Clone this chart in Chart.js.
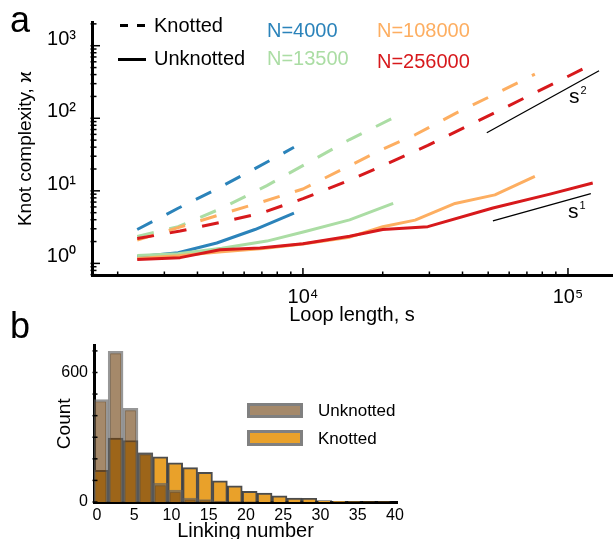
<!DOCTYPE html>
<html><head><meta charset="utf-8">
<script src="https://cdn.jsdelivr.net/npm/chart.js@4.4.1/dist/chart.umd.min.js"></script>
<style>
html,body{margin:0;padding:0;width:613px;height:539px;overflow:hidden;background:#fff;font-family:'Liberation Sans',Arial,sans-serif;}
.abs{position:absolute;white-space:nowrap;line-height:1;color:#000;}
#ca{position:absolute;left:0;top:0;}
#cb{position:absolute;left:0;top:330px;}
.bar{position:absolute;background:#000;height:3px;}
.box{position:absolute;box-sizing:border-box;border:3px solid #808080;}
</style></head><body>
<canvas id="ca" width="613" height="330"></canvas>
<canvas id="cb" width="613" height="215"></canvas>

<div class="abs" style="left:10px;top:1.5px;font-size:36px;">a</div>
<div class="abs" style="left:10px;top:307.5px;font-size:36px;">b</div>
<div class="bar" style="left:120px;top:23.5px;width:8px;"></div>
<div class="bar" style="left:137px;top:23.5px;width:8px;"></div>
<div class="bar" style="left:118px;top:57.5px;width:28px;"></div>
<div class="abs" style="left:154px;top:15px;font-size:20px;">Knotted</div>
<div class="abs" style="left:154px;top:48px;font-size:20px;">Unknotted</div>
<div class="abs" style="left:267px;top:20px;font-size:20px;color:#2b83ba;">N=4000</div>
<div class="abs" style="left:267px;top:48px;font-size:20px;color:#abdda4;">N=13500</div>
<div class="abs" style="left:377px;top:20px;font-size:20px;color:#fdae61;">N=108000</div>
<div class="abs" style="left:377px;top:51px;font-size:20px;color:#d7191c;">N=256000</div>
<div class="abs" style="left:569px;top:85px;font-size:21px;">s<span style="font-size:11px;position:relative;top:-9px;left:1px;">2</span></div>
<div class="abs" style="left:568px;top:200px;font-size:21px;">s<span style="font-size:11px;position:relative;top:-9px;left:1px;">1</span></div>
<div class="box" style="left:247px;top:403px;width:56px;height:15px;background:rgb(165,137,106);"></div>
<div class="box" style="left:247px;top:430px;width:56px;height:16px;background:rgb(233,161,42);"></div>
<div class="abs" style="left:318px;top:401.6px;font-size:17px;">Unknotted</div>
<div class="abs" style="left:318px;top:429.6px;font-size:17px;">Knotted</div>

<script>
// ---------- Panel a data: loop length s vs knot complexity ----------
const sBlue = [2370, 3380, 4730, 6590, 9250];
const unknotBlue = [1.24, 1.40, 1.91, 2.93, 4.94];
const knotBlue = [2.93, 5.75, 10.6, 20.2, 39.8];

const sGreen = [2370, 3380, 4940, 7310, 10200, 15000, 21900];
const unknotGreen = [1.28, 1.36, 1.62, 2.03, 2.75, 3.98, 6.7];
const knotGreen = [2.36, 3.21, 5.75, 11.8, 23.2, 50.9, 101];

const sOrange = [2370, 3380, 4940, 7070, 10000, 15000, 20000, 26500, 37500, 53000, 75000];
const unknotOrange = [1.17, 1.27, 1.45, 1.6, 1.85, 2.3, 3.2, 3.95, 6.7, 8.8, 15.8];
const knotOrange = [2.09, 3.11, 4.78, 7.1, 10.6, 22.2, 37.5, 59.2, 116, 215, 405];

const sRed = [2370, 3440, 4860, 6880, 10000, 15000, 20000, 29600, 52100, 85500, 124000];
const unknotRed = [1.13, 1.2, 1.54, 1.63, 1.87, 2.36, 2.93, 3.21, 5.8, 9.0, 12.8];
const knotRed = [2.2, 2.79, 3.66, 4.86, 7.8, 14.0, 22.2, 42.2, 116, 284, 560];

const sGuide2 = [49400, 131000];
const guide2 = [63.1, 452];
const sGuide1 = [52100, 122000];
const guide1 = [3.86, 9.12];

// ---------- Panel b data: linking number histogram ----------
const linkingBins = [0.5, 2.5, 4.5, 6.5, 8.5, 10.5, 12.5, 14.5, 16.5, 18.5, 20.5, 22.5, 24.5, 26.5, 28.5, 30.5, 32.5, 34.5, 36.5, 38.5];
const unknottedCounts = [475, 698, 434, 229, 86, 55, 18, 11, 4, 2, 1, 0, 0, 0, 0, 0, 0, 0, 0, 0];
const knottedCounts = [147, 296, 285, 227, 209, 182, 159, 137, 98, 75, 49, 41, 29, 18, 17, 6, 3, 2, 1, 1];
const countTickLabels = [0, 600];
const linkTickLabels = [0, 5, 10, 15, 20, 25, 30, 35, 40];

const FAM = "'Liberation Sans', Arial, sans-serif";
const SUP = {'-1':'⁻¹','0':'⁰','1':'¹','2':'²','3':'³','4':'⁴','5':'⁵'};
const pts = (xs, ys) => xs.map((x, i) => ({x: x, y: ys[i]}));
const isPow10 = v => { const l = Math.log10(v); return Math.abs(l - Math.round(l)) < 1e-9; };
function logTicks(min, max) {
  const out = [];
  for (let e = Math.floor(Math.log10(min)); e <= Math.ceil(Math.log10(max)); e++) {
    for (let m = 1; m <= 9; m++) {
      const v = parseFloat((m * Math.pow(10, e)).toPrecision(6));
      if (v >= min && v <= max) out.push({value: v});
    }
  }
  return out;
}

const inwardTicks = {
  id: 'inwardTicks',
  afterDraw(chart, args, opts) {
    const {ctx, chartArea} = chart;
    ctx.save();
    ctx.strokeStyle = '#000';
    ctx.lineWidth = 1.5;
    ['x', 'y'].forEach(id => {
      const cfg = opts[id];
      if (!cfg) return;
      const sc = chart.scales[id];
      sc.ticks.forEach(t => {
        const major = cfg.log ? isPow10(t.value) : false;
        const len = major ? cfg.major : cfg.minor;
        const p = sc.getPixelForValue(t.value);
        ctx.beginPath();
        if (id === 'x') {
          const y0 = chartArea.bottom + 1.5;
          ctx.moveTo(p, y0); ctx.lineTo(p, y0 - len);
        } else {
          const x0 = chartArea.left - 1.5;
          ctx.moveTo(x0, p); ctx.lineTo(x0 + len, p);
        }
        ctx.stroke();
      });
    });
    ctx.restore();
  }
};

const BLUE = '#2b83ba', GREEN = '#abdda4', ORANGE = '#fdae61', RED = '#d7191c';
const DASH = [17, 16];
function lineDs(label, xs, ys, color, dashed, order) {
  return {label, data: pts(xs, ys), borderColor: color, backgroundColor: color,
    borderWidth: 3, borderDash: dashed ? DASH : [], pointRadius: 0, tension: 0,
    borderCapStyle: 'butt', borderJoinStyle: 'round', fill: false, order};
}

new Chart(document.getElementById('ca'), {
  type: 'line',
  data: {
    datasets: [
      {label: 's^2', data: pts(sGuide2, guide2), borderColor: '#000', borderWidth: 1.3, pointRadius: 0, order: 0},
      {label: 's^1', data: pts(sGuide1, guide1), borderColor: '#000', borderWidth: 1.3, pointRadius: 0, order: 0},
      lineDs('N=256000 knotted', sRed, knotRed, RED, true, 1),
      lineDs('N=256000 unknotted', sRed, unknotRed, RED, false, 1),
      lineDs('N=108000 knotted', sOrange, knotOrange, ORANGE, true, 2),
      lineDs('N=108000 unknotted', sOrange, unknotOrange, ORANGE, false, 2),
      lineDs('N=13500 knotted', sGreen, knotGreen, GREEN, true, 3),
      lineDs('N=13500 unknotted', sGreen, unknotGreen, GREEN, false, 3),
      lineDs('N=4000 knotted', sBlue, knotBlue, BLUE, true, 4),
      lineDs('N=4000 unknotted', sBlue, unknotBlue, BLUE, false, 4)
    ]
  },
  plugins: [inwardTicks],
  options: {
    responsive: false, animation: false, events: [],
    layout: {padding: {top: 14, right: 1, left: 0, bottom: 0}},
    plugins: {
      legend: {display: false}, tooltip: {enabled: false},
      inwardTicks: {x: {log: true, major: 8.5, minor: 5}, y: {log: true, major: 9.5, minor: 6}}
    },
    scales: {
      x: {
        type: 'logarithmic', min: 1600, max: 146600,
        grid: {display: false, drawTicks: false},
        border: {display: true, color: '#000', width: 3},
        afterBuildTicks: sc => { sc.ticks = logTicks(sc.min, sc.max); },
        ticks: {autoSkip: false, maxRotation: 0, minRotation: 0, padding: 10, color: '#000',
          font: {family: FAM, size: 20},
          callback: v => isPow10(v) ? '10' + SUP[Math.round(Math.log10(v))] : ''},
        title: {display: true, text: 'Loop length, s', color: '#000', font: {family: FAM, size: 20}, padding: {top: 0, bottom: 3}},
        afterFit: sc => { sc.height = 55; }
      },
      y: {
        type: 'logarithmic', min: 0.692, max: 2089,
        grid: {display: false, drawTicks: false},
        border: {display: true, color: '#000', width: 3},
        afterBuildTicks: sc => { sc.ticks = logTicks(sc.min, sc.max); },
        ticks: {autoSkip: false, padding: 16, color: '#000',
          font: {family: FAM, size: 20, lineHeight: 0.65},
          callback: v => isPow10(v) ? ['10' + SUP[Math.round(Math.log10(v))], ''] : ''},
        title: {display: true, text: 'Knot complexity, ϰ', color: '#000', font: {family: FAM, size: 19}, padding: {top: 14, bottom: 0}},
        afterFit: sc => { sc.width = 92; }
      }
    }
  }
});

new Chart(document.getElementById('cb'), {
  type: 'bar',
  data: {
    datasets: [
      {label: 'Unknotted', data: pts(linkingBins, unknottedCounts),
        backgroundColor: 'rgba(110,65,15,0.62)', borderColor: 'rgba(95,95,95,0.65)', borderWidth: 2.5,
        borderSkipped: 'start', barPercentage: 1, categoryPercentage: 1, grouped: false, order: 0},
      {label: 'Knotted', data: pts(linkingBins, knottedCounts),
        backgroundColor: 'rgb(233,161,42)', borderColor: 'rgba(45,45,45,0.85)', borderWidth: 2,
        borderSkipped: 'start', barPercentage: 1, categoryPercentage: 1, grouped: false, order: 1}
    ]
  },
  plugins: [inwardTicks],
  options: {
    responsive: false, animation: false, events: [],
    layout: {padding: {top: 15, right: 216, left: 0, bottom: 0}},
    plugins: {
      legend: {display: false}, tooltip: {enabled: false},
      inwardTicks: {y: {log: false, major: 5, minor: 5}}
    },
    scales: {
      x: {
        type: 'linear', min: -0.4, max: 40.27, offset: false,
        grid: {display: false, drawTicks: false, offset: false},
        border: {display: true, color: '#000', width: 3},
        afterBuildTicks: sc => { sc.ticks = linkTickLabels.map(v => ({value: v})); },
        ticks: {autoSkip: false, maxRotation: 0, padding: 4, color: '#000', font: {family: FAM, size: 16}},
        title: {display: true, text: 'Linking number', color: '#000', font: {family: FAM, size: 20}, padding: {top: 0, bottom: 2}},
        afterFit: sc => { sc.height = 43; }
      },
      y: {
        type: 'linear', min: 0, max: 724.6,
        grid: {display: false, drawTicks: false},
        border: {display: true, color: '#000', width: 3},
        afterBuildTicks: sc => { const t = []; for (let v = 0; v <= 700; v += 100) t.push({value: v}); sc.ticks = t; },
        ticks: {autoSkip: false, padding: 6, color: '#000', font: {family: FAM, size: 16},
          callback: v => countTickLabels.includes(v) ? String(v) : ''},
        title: {display: true, text: 'Count', color: '#000', font: {family: FAM, size: 19}, padding: {top: 53, bottom: 0}},
        afterFit: sc => { sc.width = 94; }
      }
    }
  }
});
</script>
</body></html>
